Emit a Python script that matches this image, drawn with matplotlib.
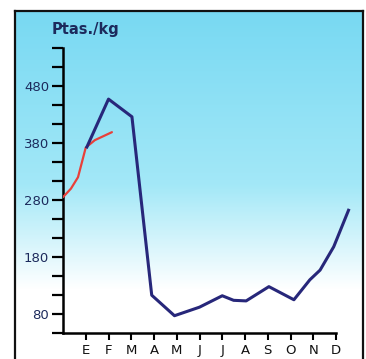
import matplotlib.pyplot as plt
import numpy as np

months = ["E", "F", "M", "A", "M", "J", "J", "A", "S", "O", "N", "D"]

# blue series (month position, Ptas./kg)
blue_x = [1.05, 2.0, 3.03, 3.9, 4.9, 6.0, 7.0, 7.5, 8.05, 9.05, 10.15, 10.85, 11.3, 11.9, 12.55]
blue_y = [373, 457, 426, 113, 77, 92, 112, 104, 103, 128, 105, 140, 157, 198, 262]

# red series
red_x = [0.0, 0.35, 0.66, 1.0, 1.4, 2.15]
red_y = [285, 300, 320, 372, 385, 399]

W, H = 366, 359
fig = plt.figure(figsize=(W / 100, H / 100), dpi=100)

# framed gradient background
bg = fig.add_axes([15 / W, 0, 348 / W, 348 / H])
f = np.linspace(0, 1, 256)
stops = [0.0, 0.5, 0.8, 1.0]
cols = np.array([[0.47, 0.85, 0.95],
                 [0.64, 0.91, 0.97],
                 [1.0, 1.0, 1.0],
                 [1.0, 1.0, 1.0]])
img = np.stack([np.interp(f, stops, cols[:, i]) for i in range(3)], axis=-1)
img = img.reshape(256, 1, 3)
bg.imshow(img, aspect="auto", extent=[0, 1, 0, 1], origin="upper")
bg.set_xlim(0, 1)
bg.set_ylim(0, 1)
bg.set_xticks([])
bg.set_yticks([])
for s in ["left", "top", "right"]:
    bg.spines[s].set_linewidth(1.6)
    bg.spines[s].set_color("#111111")
bg.spines["bottom"].set_visible(False)

# main axes: x 0..12 -> px 63..336, y 80..480 -> px 314..86
px_x = 22.75
px_y = 0.57
ymin, ymax = 46.67, 560
xmax = 12.9
ax = fig.add_axes([63 / W, 1 - 333 / H, xmax * px_x / W, (ymax - ymin) * px_y / H])
ax.patch.set_visible(False)

ax.plot(red_x, red_y, color="#e8403a", lw=1.6, solid_capstyle="round", zorder=3)
ax.plot(blue_x, blue_y, color="#27277a", lw=2.2, solid_joinstyle="round", zorder=4)

ax.set_xlim(0, xmax)
ax.set_ylim(ymin, ymax)
for s in ["top", "right"]:
    ax.spines[s].set_visible(False)
ax.spines["left"].set_bounds(ymin, 546.67)
ax.spines["bottom"].set_bounds(0, 12)
ax.spines["left"].set_linewidth(1.8)
ax.spines["bottom"].set_linewidth(1.8)

ax.set_yticks([80, 180, 280, 380, 480])
ax.set_yticklabels(["80", "180", "280", "380", "480"], color="#1c2a5c", fontsize=9.5)
ax.set_yticks(np.arange(46.67, 547, 100 / 3), minor=True)
ax.tick_params(axis="y", which="both", direction="out", length=8, width=1.6, pad=2)

ax.set_xticks(range(1, 13))
ax.set_xticklabels(months, fontsize=9.5, color="#111111")
ax.tick_params(axis="x", direction="out", length=5, width=1.5, pad=3)

ax.text(-0.5, 580, "Ptas./kg", fontsize=10.5, color="#1c2a5c",
        fontweight="bold", ha="left", va="center", clip_on=False)

fig.savefig("out.png", dpi=100)
